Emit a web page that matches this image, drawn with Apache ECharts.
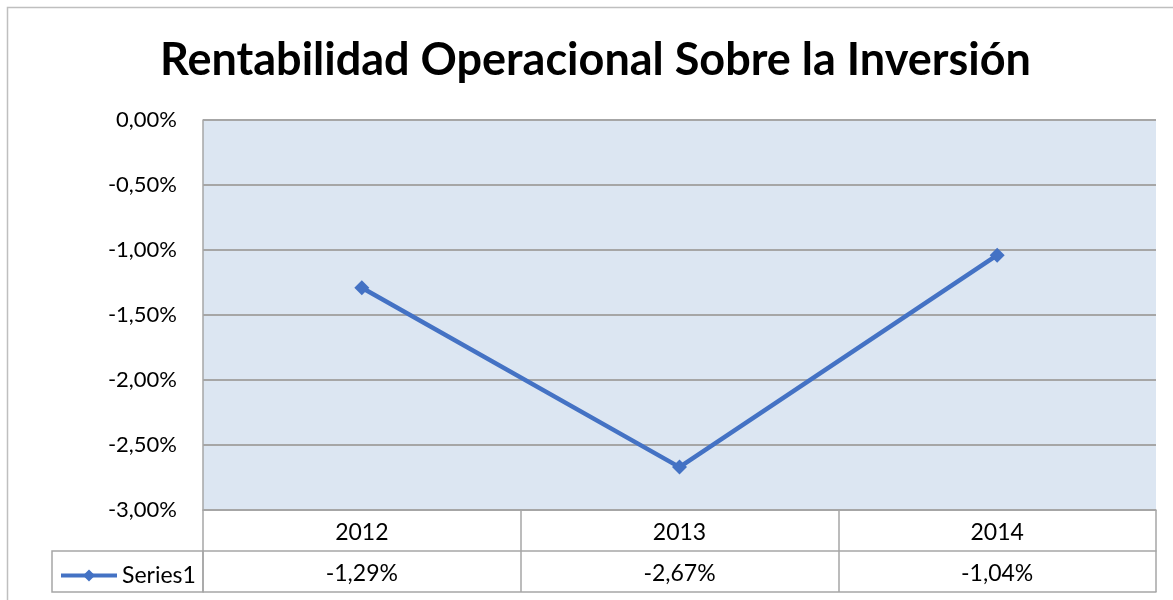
<!DOCTYPE html>
<html>
<head>
<meta charset="utf-8">
<script src="https://cdn.jsdelivr.net/npm/echarts@6/dist/echarts.min.js"></script>
<style>
  html, body { margin: 0; padding: 0; background: #fff; }
  #chart { width: 1173px; height: 600px; }
</style>
</head>
<body>
<div id="chart"></div>
<script>
var years = ['2012', '2013', '2014'];
var values = [-1.29, -2.67, -1.04];
var seriesName = 'Series1';

function pct(v) {
  return v.toFixed(2).replace('.', ',') + '%';
}
var valueLabels = values.map(pct);

var gray = '#A6A6A6';
var font = 'Lato';

var myChart = echarts.init(document.getElementById('chart'));
var option = {
  animation: false,
  textStyle: { fontFamily: font },
  title: {
    text: 'Rentabilidad Operacional Sobre la Inversión',
    left: 155,
    top: 33,
    textStyle: { fontFamily: font, fontSize: 45, fontWeight: 'bold', color: '#000' }
  },
  legend: {
    data: [seriesName],
    left: 54,
    top: 559,
    itemWidth: 56,
    itemHeight: 15,
    itemGap: 4,
    lineStyle: { width: 4 },
    textStyle: { fontFamily: font, fontSize: 23, color: '#000' }
  },
  grid: {
    left: 203, right: 17, top: 120, bottom: 90,
    show: true, backgroundColor: '#DCE6F2', borderWidth: 0
  },
  xAxis: [
    {
      type: 'category',
      data: years,
      position: 'bottom',
      offset: 0,
      boundaryGap: true,
      axisLine: { onZero: false, lineStyle: { color: gray, width: 1.5 } },
      axisTick: { show: true, inside: false, length: 41, lineStyle: { color: gray, width: 1.5 } },
      axisLabel: { margin: 11, fontSize: 23, color: '#000', fontFamily: font }
    },
    {
      type: 'category',
      data: valueLabels,
      position: 'bottom',
      offset: 41,
      boundaryGap: true,
      axisLine: { onZero: false, lineStyle: { color: gray, width: 1.5 } },
      axisTick: { show: true, inside: false, length: 41, lineStyle: { color: gray, width: 1.5 } },
      axisLabel: { margin: 11, fontSize: 23, color: '#000', fontFamily: font }
    },
    {
      type: 'category',
      data: years,
      position: 'bottom',
      offset: 82,
      axisLine: { onZero: false, lineStyle: { color: gray, width: 1.5 } },
      axisTick: { show: false },
      axisLabel: { show: false }
    }
  ],
  yAxis: {
    type: 'value',
    min: -3,
    max: 0,
    interval: 0.5,
    axisLine: { show: true, lineStyle: { color: gray, width: 1.5 } },
    axisTick: { show: false },
    axisLabel: {
      margin: 26,
      fontSize: 22,
      color: '#000',
      fontFamily: font,
      formatter: pct
    },
    splitLine: { lineStyle: { color: gray, width: 2 } }
  },
  series: [
    {
      name: seriesName,
      type: 'line',
      data: values,
      symbol: 'diamond',
      symbolSize: 15,
      lineStyle: { color: '#4472C4', width: 4.5 },
      itemStyle: { color: '#4472C4' }
    }
  ],
  graphic: [
    {
      type: 'rect',
      shape: { x: 7.5, y: 7.5, width: 1200, height: 700 },
      style: { fill: 'none', stroke: '#BFBFBF', lineWidth: 1.5 },
      silent: true
    },
    {
      type: 'rect',
      shape: { x: 52, y: 551, width: 151, height: 41 },
      style: { fill: 'none', stroke: gray, lineWidth: 1.5 },
      silent: true
    }
  ]
};
myChart.setOption(option);
</script>
</body>
</html>
